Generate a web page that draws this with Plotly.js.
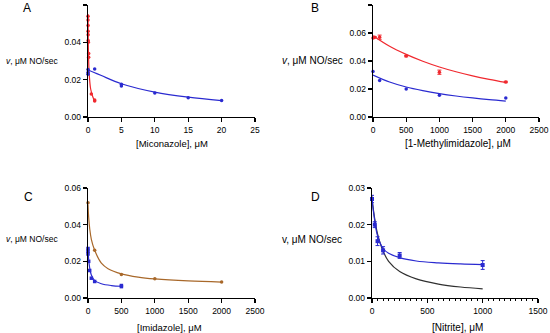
<!DOCTYPE html>
<html><head><meta charset="utf-8">
<script src="https://cdn.plot.ly/plotly-3.0.1.min.js"></script>
<style>html,body{margin:0;padding:0;background:#fff}#c{width:550px;height:333px}</style>
</head><body><div id="c"></div>
<script>
// Panel A: Miconazole
const aRedX = [0,0,0.01,0.01,0.02,0.02,0.05,0.1,0.1,0.5,1,1];
const aRedY = [0.054,0.052,0.049,0.046,0.044,0.041,0.040,0.034,0.032,0.0123,0.0091,0.0086];
const aRedFitX = [0,0.02,0.05,0.1,0.2,0.4,0.7,1];
const aRedFitY = [0.055,0.046,0.038,0.030,0.022,0.015,0.011,0.0085];
const aBlueX = [0,0,0,1,5,5,10,15,20];
const aBlueY = [0.0255,0.0238,0.0229,0.0257,0.0175,0.0166,0.0128,0.0103,0.0089];
const aBlueFitX = [0,1,2,5,10,15,20];
const aBlueFitY = [0.0252,0.0237,0.0222,0.0178,0.0133,0.0106,0.0088];
// Panel B: 1-Methylimidazole
const bRedX = [0,25,100,500,1000,2000];
const bRedY = [0.0565,0.057,0.057,0.0435,0.032,0.025];
const bRedErr = [0.0005,0.0005,0.0015,0.0005,0.0015,0.0005];
const bRedFitX = [0,250,500,750,1000,1250,1500,1750,2000];
const bRedFitY = [0.058,0.0505,0.0447,0.0398,0.0357,0.0323,0.0294,0.0269,0.0247];
const bBlueX = [0,100,500,1000,2000];
const bBlueY = [0.0325,0.026,0.020,0.0155,0.0135];
const bBlueFitX = [0,250,500,750,1000,1250,1500,1750,2000];
const bBlueFitY = [0.0300,0.0250,0.0214,0.0188,0.0167,0.0150,0.0136,0.0124,0.0114];
// Panel C: Imidazole
const cBrownX = [0,100,500,1000,2000];
const cBrownY = [0.052,0.026,0.0128,0.0105,0.0087];
const cBrownFitX = [0,10,25,50,100,200,300,500,750,1000,1500,2000];
const cBrownFitY = [0.051,0.044,0.038,0.032,0.026,0.019,0.016,0.0132,0.0114,0.0104,0.0093,0.0087];
const cBlueX = [0,0,0,10,25,50,100,500,500];
const cBlueY = [0.027,0.0255,0.024,0.020,0.015,0.0108,0.009,0.0068,0.0062];
const cBlueFitX = [0,10,25,50,100,200,350,500];
const cBlueFitY = [0.027,0.021,0.0165,0.0125,0.0095,0.0078,0.0068,0.0064];
// Panel D: Nitrite
const dX = [0,25,50,100,250,1000];
const dY = [0.027,0.020,0.0155,0.013,0.0116,0.009];
const dErr = [0.001,0.0008,0.0012,0.001,0.0008,0.0012];
const dBlueFitX = [0,25,50,100,150,250,400,600,800,1000];
const dBlueFitY = [0.027,0.021,0.017,0.0135,0.0122,0.011,0.0101,0.0096,0.0093,0.0091];
const dBlackFitX = [0,25,50,100,150,250,400,600,800,1000];
const dBlackFitY = [0.027,0.0215,0.0175,0.0128,0.0100,0.0072,0.0052,0.0038,0.0030,0.0025];

const RED = '#f0282e', BLUE = '#2a2ad0', BROWN = '#a8682a', BLACK = '#303030';
const FONT = 'Liberation Sans, Arial, sans-serif';

function pts(x, y, color, xa, ya, err, sym, size) {
  const t = {x, y, xaxis: xa, yaxis: ya, type: 'scatter', mode: 'markers', cliponaxis: false,
    marker: {color, size: size || 3.5, symbol: sym || 'circle'}, showlegend: false, hoverinfo: 'none'};
  if (err) t.error_y = {type: 'data', array: err, visible: true, color, thickness: 1, width: 2};
  return t;
}
function fit(x, y, color, xa, ya) {
  return {x, y, xaxis: xa, yaxis: ya, type: 'scatter', mode: 'lines', cliponaxis: false,
    line: {color, width: 1.2, shape: 'spline', smoothing: 1}, showlegend: false, hoverinfo: 'none'};
}

const data = [
  fit(aRedFitX, aRedFitY, RED, 'x', 'y'),
  fit(aBlueFitX, aBlueFitY, BLUE, 'x', 'y'),
  pts(aRedX, aRedY, RED, 'x', 'y'),
  pts(aBlueX, aBlueY, BLUE, 'x', 'y'),
  fit(bRedFitX, bRedFitY, RED, 'x2', 'y2'),
  fit(bBlueFitX, bBlueFitY, BLUE, 'x2', 'y2'),
  pts(bRedX, bRedY, RED, 'x2', 'y2', bRedErr),
  pts(bBlueX, bBlueY, BLUE, 'x2', 'y2'),
  fit(cBrownFitX, cBrownFitY, BROWN, 'x3', 'y3'),
  fit(cBlueFitX, cBlueFitY, BLUE, 'x3', 'y3'),
  pts(cBrownX, cBrownY, BROWN, 'x3', 'y3'),
  pts(cBlueX, cBlueY, BLUE, 'x3', 'y3', null, 'square'),
  fit(dBlackFitX, dBlackFitY, BLACK, 'x4', 'y4'),
  fit(dBlueFitX, dBlueFitY, BLUE, 'x4', 'y4'),
  pts(dX, dY, BLUE, 'x4', 'y4', dErr, 'square', 4)
];

const W = 550, H = 333;
const px = v => v / W, py = v => 1 - v / H;
function xax(dom, range, dtick, anchor, minor) {
  const a = {domain: [px(dom[0]), px(dom[1])], range, dtick, tick0: 0, anchor,
    showline: true, linecolor: '#000', linewidth: 1.3, ticks: 'outside', ticklen: 4, tickwidth: 1.2,
    tickcolor: '#000', showgrid: false, zeroline: false, fixedrange: true,
    tickfont: {family: FONT, size: 8.5, color: '#000'}};
  if (minor) a.minor = {dtick: minor, ticks: 'outside', ticklen: 2, tickwidth: 1, tickcolor: '#000', showgrid: false};
  return a;
}
function yax(dom, range, dtick, anchor) {
  return {domain: [py(dom[1]), py(dom[0])], range, dtick, tick0: 0, anchor, tickformat: '.2f',
    showline: true, linecolor: '#000', linewidth: 1.3, ticks: 'outside', ticklen: 4, tickwidth: 1.2,
    tickcolor: '#000', showgrid: false, zeroline: false, fixedrange: true,
    tickfont: {family: FONT, size: 8.5, color: '#000'}};
}
function ann(text, x, y, size) {
  return {text, x: px(x), y: py(y), xref: 'paper', yref: 'paper', showarrow: false,
    xanchor: 'center', yanchor: 'middle', font: {family: FONT, size, color: '#000'}};
}

const layout = {
  width: W, height: H, margin: {l: 0, r: 0, t: 0, b: 0},
  paper_bgcolor: '#fff', plot_bgcolor: '#fff', showlegend: false,
  xaxis: xax([88, 255], [0, 25], 5, 'y'),
  yaxis: yax([5, 117], [0, 0.06], 0.02, 'x'),
  xaxis2: xax([373, 539], [0, 2500], 500, 'y2'),
  yaxis2: yax([5, 117], [0, 0.08], 0.02, 'x2'),
  xaxis3: xax([88, 255], [0, 2500], 500, 'y3'),
  yaxis3: yax([188, 298], [0, 0.06], 0.02, 'x3'),
  xaxis4: xax([372, 538], [0, 1500], 500, 'y4', 50),
  yaxis4: yax([188, 298], [0, 0.03], 0.01, 'x4'),
  annotations: [
    ann('A', 27, 8, 12), ann('B', 315, 8, 12), ann('C', 28, 197, 12), ann('D', 315, 197, 12),
    ann('<i>v</i>, μM NO/sec', 31.5, 61, 8.5),
    ann('<i>v</i>, μM NO/sec', 312.5, 61, 10),
    ann('<i>v</i>, μM NO/sec', 31.5, 239, 8.5),
    ann('v, μM NO/sec', 311.5, 239, 10),
    ann('[Miconazole], μM', 171.5, 143.5, 9.5),
    ann('[1-Methylimidazole], μM', 457.5, 143.5, 10),
    ann('[Imidazole], μM', 169.5, 327, 9.5),
    ann('[Nitrite], μM', 457, 327, 10)
  ]
};
Plotly.newPlot('c', data, layout, {staticPlot: true, displayModeBar: false});
</script></body></html>
